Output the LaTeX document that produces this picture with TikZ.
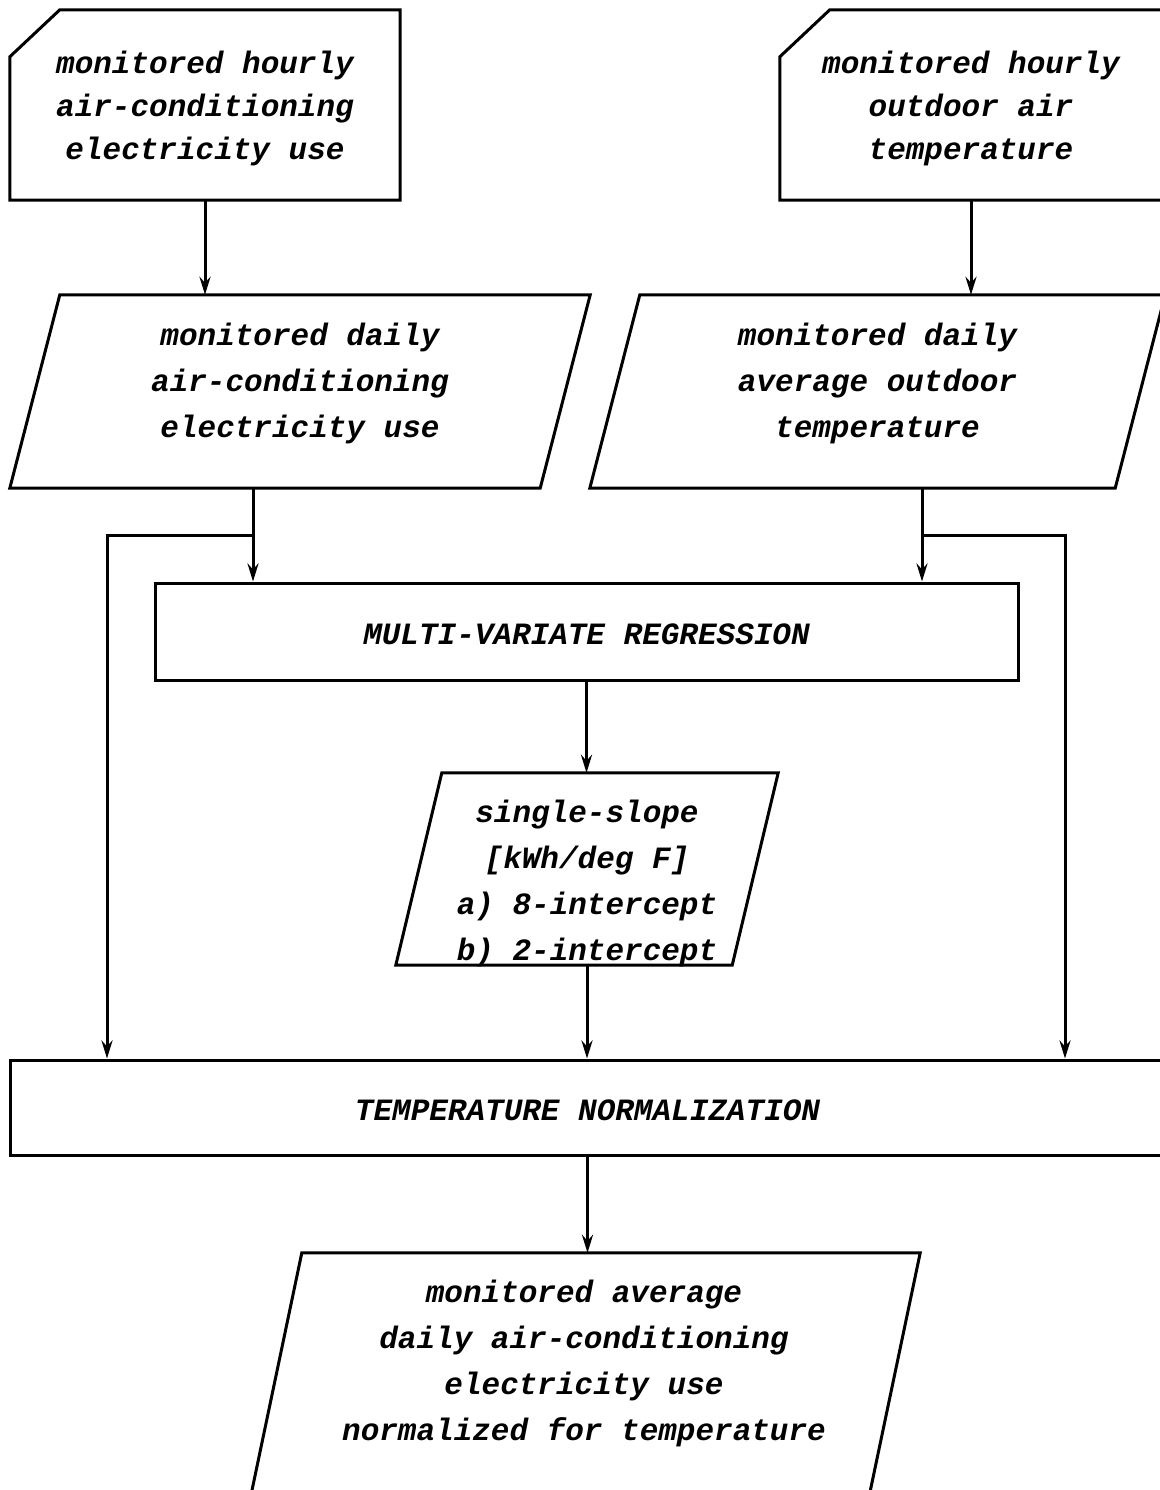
\documentclass[tikz,border=0pt]{standalone}
\usepackage{fontspec}
\newfontfamily\courfont{Liberation Mono}
\usetikzlibrary{arrows.meta}
\tikzset{
  flowline/.style={line width=3pt},
  flowarrow/.style={flowline,-{Stealth[length=18pt,width=11pt,inset=6pt]}},
  flowtext/.style={font=\courfont\bfseries\itshape\fontsize{31}{46}\selectfont,align=center,text depth=0pt},
  card/.style={rectangle,inner sep=0pt,minimum width=390pt,minimum height=190pt,flowtext,
    font=\courfont\bfseries\itshape\fontsize{31}{43}\selectfont,text height=110pt},
  slantbox/.style={rectangle,inner sep=0pt,flowtext},
  procbox/.style={flowline,draw,rectangle,inner sep=0pt,flowtext,text height=26pt}
}
\begin{document}
\begin{tikzpicture}[x=1pt,y=-1pt]
  \useasboundingbox (0,0) rectangle (1159,1490);
  % Eingaben (stuendlich)
  \node[card] (hourlyac) at (205,105) {monitored hourly\\air-conditioning\\electricity use};
  \node[card,minimum width=382pt] (hourlyt) at (971,105) {monitored hourly\\outdoor air\\temperature};
  % Tageswerte
  \node[slantbox,minimum width=580pt,minimum height=193pt,text height=91pt] (dailyac) at (300,391.5)
    {monitored daily\\air-conditioning\\electricity use};
  \node[slantbox,minimum width=575pt,minimum height=193pt,text height=91pt] (dailyt) at (877.5,391.5)
    {monitored daily\\average outdoor\\temperature};
  % Regression und Steigung
  \node[procbox,minimum width=863pt,minimum height=97pt] (mvr) at (586.5,631.5) {MULTI-VARIATE REGRESSION};
  \node[slantbox,minimum width=382pt,minimum height=192pt,text height=182pt] (slope) at (587,869)
    {single-slope\\{}[kWh/deg F]\\a) 8-intercept\\b) 2-intercept};
  \node[procbox,minimum width=1155pt,minimum height=95pt] (tn) at (587.5,1107.5) {TEMPERATURE NORMALIZATION};
  % Ergebnis (unten abgeschnitten)
  \node[slantbox,minimum width=672pt,minimum height=257pt,text height=117pt] (result) at (584,1381.5)
    {monitored average\\daily air-conditioning\\electricity use\\normalized for temperature};
  % Umrisse
  \foreach \n in {hourlyac,hourlyt}
    \draw[flowline] (\n.south west) -- ([yshift=-47pt]\n.north west) -- ([xshift=50pt]\n.north west)
      -- (\n.north east) -- (\n.south east) -- cycle;
  \foreach \n/\s in {dailyac/50,dailyt/50,slope/46,result/54}
    \draw[flowline] ([xshift=\s pt]\n.north west) -- (\n.north east) -- ([xshift=-\s pt]\n.south east)
      -- (\n.south west) -- cycle;
  % Verbindungen
  \coordinate (lsplit) at (253,535);
  \coordinate (lleft) at (107,535);
  \coordinate (rsplit) at (922,535);
  \coordinate (rright) at (1065,535);
  \draw[flowarrow] (hourlyac.south) -- (hourlyac.south |- dailyac.north);
  \draw[flowarrow] (hourlyt.south) -- (hourlyt.south |- dailyt.north);
  \draw[flowarrow] (lsplit |- dailyac.south) -- (lsplit |- mvr.north);
  \draw[flowarrow] (rsplit |- dailyt.south) -- (rsplit |- mvr.north);
  \draw[flowarrow] (lsplit) -- (lleft) -- (lleft |- tn.north);
  \draw[flowarrow] (rsplit) -- (rright) -- (rright |- tn.north);
  \draw[flowarrow] (mvr.south) -- (mvr.south |- slope.north);
  \draw[flowarrow] (slope.south) -- (slope.south |- tn.north);
  \draw[flowarrow] (tn.south) -- (tn.south |- result.north);
\end{tikzpicture}
\end{document}
